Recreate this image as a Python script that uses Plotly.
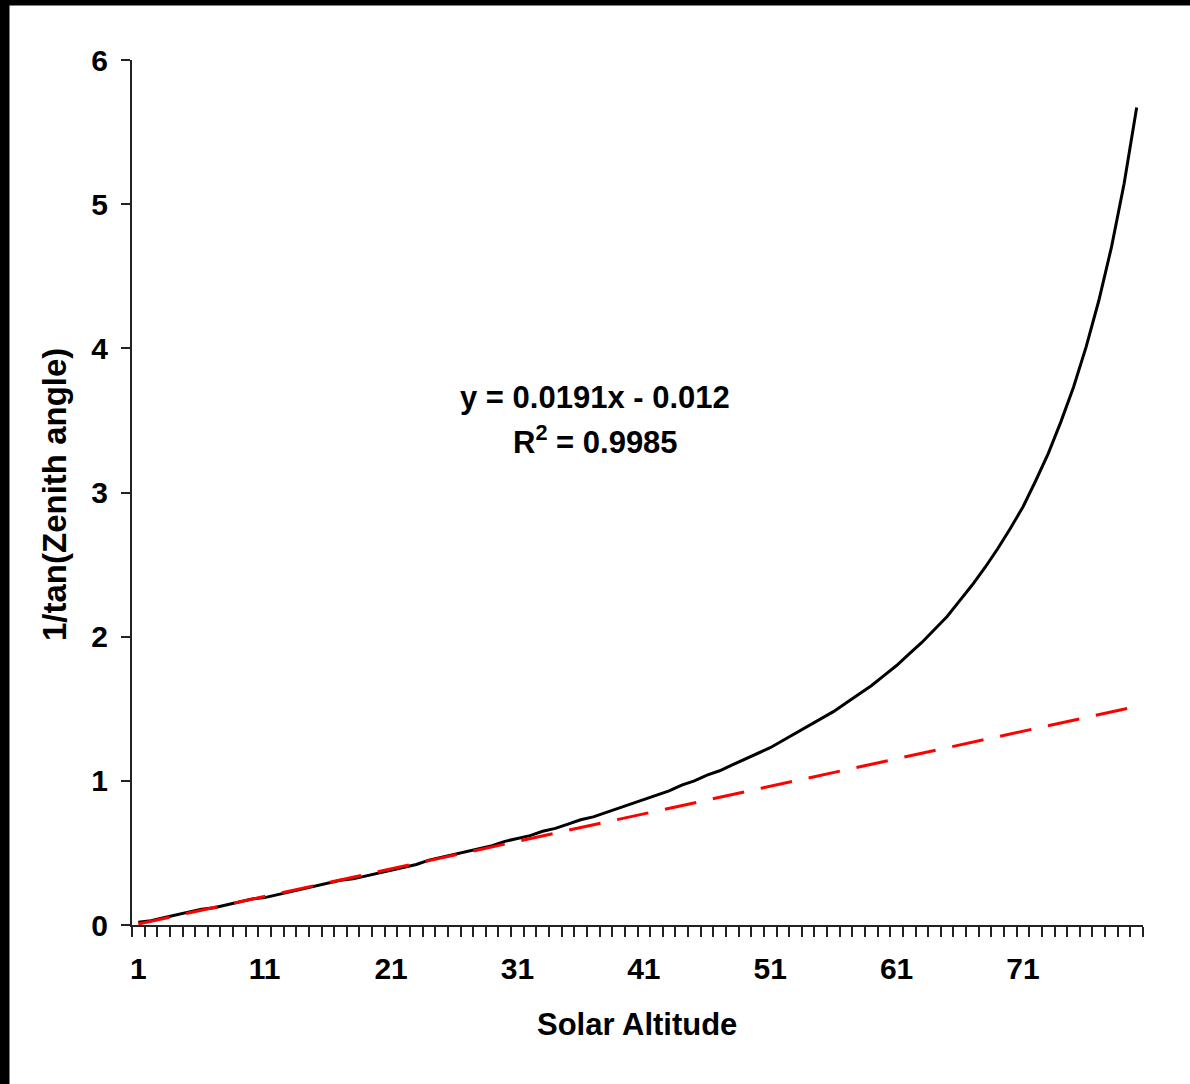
import plotly.graph_objects as go

# ---- data ----
altitude = list(range(1, 81))
inv_tan_zenith = [
    0.02, 0.03, 0.05, 0.07, 0.09, 0.11, 0.12, 0.14, 0.16, 0.18,
    0.19, 0.21, 0.23, 0.25, 0.27, 0.29, 0.31, 0.32, 0.34, 0.36,
    0.38, 0.40, 0.42, 0.45, 0.47, 0.49, 0.51, 0.53, 0.55, 0.58,
    0.60, 0.62, 0.65, 0.67, 0.70, 0.73, 0.75, 0.78, 0.81, 0.84,
    0.87, 0.90, 0.93, 0.97, 1.00, 1.04, 1.07, 1.11, 1.15, 1.19,
    1.23, 1.28, 1.33, 1.38, 1.43, 1.48, 1.54, 1.60, 1.66, 1.73,
    1.80, 1.88, 1.96, 2.05, 2.14, 2.25, 2.36, 2.48, 2.61, 2.75,
    2.90, 3.08, 3.27, 3.49, 3.73, 4.01, 4.33, 4.70, 5.14, 5.67,
]
trend_x = [1, 80]
trend_y = [0.0071, 1.516]
x_tick_vals = [1, 11, 21, 31, 41, 51, 61, 71]
x_tick_text = ["1", "11", "21", "31", "41", "51", "61", "71"]
y_tick_vals = [0, 1, 2, 3, 4, 5, 6]
equation_text = "y = 0.0191x - 0.012"
r2_text = "R<sup>2</sup> = 0.9985"
x_title = "Solar Altitude"
y_title = "1/tan(Zenith angle)"

# ---- layout geometry ----
W, H = 1190, 1084
L, R, T, B = 132, 47, 60, 159
PW, PH = W - L - R, H - T - B

def px(xp):
    return (xp - L) / PW

def py(yp):
    return (H - B - yp) / PH

FONT = "Liberation Sans, Arial, sans-serif"

fig = go.Figure()
fig.add_trace(go.Scatter(
    x=altitude, y=inv_tan_zenith, mode="lines",
    line=dict(color="black", width=3), hoverinfo="skip", showlegend=False,
))
fig.add_trace(go.Scatter(
    x=trend_x, y=trend_y, mode="lines",
    line=dict(color="#ff0000", width=3, dash="32px,17px"),
    hoverinfo="skip", showlegend=False,
))

boundaries = [i + 0.5 for i in range(0, 81)]

fig.update_layout(
    width=W, height=H,
    margin=dict(l=L, r=R, t=T, b=B, pad=0),
    paper_bgcolor="white", plot_bgcolor="white",
    font=dict(family=FONT, color="black"),
    xaxis=dict(
        range=[0.5, 80.5], tickmode="array", tickvals=x_tick_vals,
        ticktext=x_tick_text, ticks="", showgrid=False, zeroline=False,
        showline=True, linecolor="#222", linewidth=2,
        tickfont=dict(size=30, family=FONT, weight="bold"),
        ticklabelstandoff=16,
        minor=dict(tickmode="array", tickvals=boundaries, ticks="outside",
                   ticklen=10, tickwidth=2, tickcolor="#222", showgrid=False),
    ),
    yaxis=dict(
        range=[0, 6], tickmode="array", tickvals=y_tick_vals,
        ticks="outside", ticklen=9, tickwidth=2, tickcolor="#222",
        showgrid=False, zeroline=False, showline=True, linecolor="#222",
        linewidth=2, tickfont=dict(size=30, family=FONT, weight="bold"),
        ticklabelstandoff=7,
    ),
    shapes=[
        dict(type="rect", xref="paper", yref="paper", layer="below",
             x0=px(-5), x1=px(9.5), y0=py(H + 5), y1=py(-5),
             fillcolor="black", line=dict(width=0)),
        dict(type="rect", xref="paper", yref="paper", layer="below",
             x0=px(-5), x1=px(W + 5), y0=py(5.5), y1=py(-5),
             fillcolor="black", line=dict(width=0)),
    ],
    annotations=[
        dict(text=equation_text, xref="paper", yref="paper",
             x=px(595), y=py(397), showarrow=False, xanchor="center",
             yanchor="middle", font=dict(size=31, family=FONT, weight="bold")),
        dict(text=r2_text, xref="paper", yref="paper",
             x=px(595), y=py(440), showarrow=False, xanchor="center",
             yanchor="middle", font=dict(size=31, family=FONT, weight="bold")),
        dict(text=x_title, xref="paper", yref="paper",
             x=px(637), y=py(1024), showarrow=False, xanchor="center",
             yanchor="middle", font=dict(size=31, family=FONT, weight="bold")),
        dict(text=y_title, xref="paper", yref="paper",
             x=px(54), y=py(495), showarrow=False, xanchor="center",
             yanchor="middle", textangle=-90,
             font=dict(size=33, family=FONT, weight="bold")),
    ],
)

fig.write_html(
    "out.html",
    config={"displayModeBar": False},
    post_script="document.body.style.margin='0px';document.body.style.padding='0px';",
)
